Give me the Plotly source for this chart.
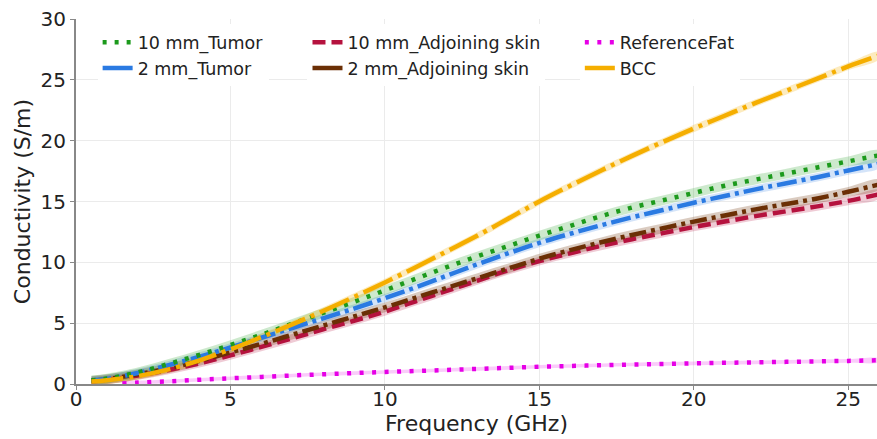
import plotly.graph_objects as go

# ---------------- data ----------------
freq = [0.5, 1, 2, 3, 4, 5, 6, 7, 8, 9, 10, 11, 12, 13, 14, 15, 16, 17, 18, 19,
        20, 21, 22, 23, 24, 25, 26]

tumor_10mm = [0.3, 0.45, 0.95, 1.65, 2.4, 3.2, 4.05, 4.95, 5.85, 6.75, 7.7, 8.65, 9.6,
              10.5, 11.35, 12.2, 13.0, 13.8, 14.5, 15.1, 15.7, 16.3, 16.8, 17.3, 17.8,
              18.3, 18.8]
tumor_2mm = [0.28, 0.42, 0.9, 1.55, 2.25, 3.0, 3.8, 4.6, 5.4, 6.2, 7.05, 7.95, 8.9,
             9.85, 10.75, 11.6, 12.35, 13.05, 13.7, 14.3, 14.9, 15.45, 16.0, 16.5, 17.0,
             17.55, 18.1]
skin_10mm = [0.22, 0.35, 0.7, 1.15, 1.7, 2.35, 3.05, 3.75, 4.5, 5.2, 5.95, 6.8, 7.65,
             8.5, 9.35, 10.1, 10.75, 11.35, 11.9, 12.4, 12.9, 13.35, 13.8, 14.2, 14.6,
             15.05, 15.6]
skin_2mm = [0.25, 0.4, 0.8, 1.3, 1.9, 2.6, 3.3, 4.05, 4.8, 5.55, 6.3, 7.1, 7.9, 8.7,
            9.5, 10.3, 11.0, 11.65, 12.25, 12.8, 13.35, 13.85, 14.35, 14.8, 15.25,
            15.8, 16.4]
bcc = [0.2, 0.3, 0.65, 1.2, 1.95, 2.85, 3.85, 4.9, 6.0, 7.15, 8.35, 9.6, 10.9, 12.2,
       13.6, 15.0, 16.3, 17.55, 18.75, 19.9, 21.0, 22.05, 23.1, 24.1, 25.1, 26.1, 27.0]
fat_freq = [1.5, 2, 3, 4, 5, 6, 7, 8, 9, 10, 11, 12, 13, 14, 15, 16, 17, 18, 19,
            20, 21, 22, 23, 24, 25, 26]
fat = [0.05, 0.12, 0.22, 0.35, 0.47, 0.58, 0.7, 0.8, 0.9, 0.99, 1.07, 1.15, 1.24,
       1.33, 1.42, 1.48, 1.54, 1.6, 1.65, 1.7, 1.74, 1.78, 1.82, 1.86, 1.9, 1.95]

# band half-widths (std) per series
sd_tumor_10mm = 0.4
sd_tumor_2mm = 0.35
sd_skin_10mm = 0.35
sd_skin_2mm = 0.4
sd_bcc = 0.3
sd_fat = 0.15

names = ["10 mm_Tumor", "2 mm_Tumor", "10 mm_Adjoining skin",
         "2 mm_Adjoining skin", "ReferenceFat", "BCC"]

# ---------------- styles ----------------
FONT = "DejaVu Sans"
series = [
    # name, x, y, sd, color, fill, dash, legend dash, legend id
    (names[2], freq, skin_10mm, sd_skin_10mm, "#b5123e", "rgba(181,18,62,0.22)", "13px,6px", "13px,6px", "legend2"),
    (names[3], freq, skin_2mm, sd_skin_2mm, "#6b2f05", "rgba(107,47,5,0.25)", "17px,5px,4px,5px", "solid", "legend2"),
    (names[1], freq, tumor_2mm, sd_tumor_2mm, "#2a7ae2", "rgba(42,122,226,0.2)", "20px,5px,4px,5px", "solid", "legend"),
    (names[0], freq, tumor_10mm, sd_tumor_10mm, "#1c9a1c", "rgba(28,154,28,0.22)", "4px,8px", "4px,8px", "legend"),
    (names[4], fat_freq, fat, sd_fat, "#e600e6", "rgba(230,0,230,0.2)", "4px,8.5px", "4px,8.5px", "legend3"),
    (names[5], freq, bcc, sd_bcc, "#f5ae00", "rgba(245,174,0,0.25)", "32px,6px,4px,6px", "solid", "legend3"),
]

fig = go.Figure()

# bands
for name, x, y, sd, col, fill, dash, ldash, lg in series:
    up = [v + sd for v in y]
    lo = [max(v - sd, 0) for v in y]
    fig.add_trace(go.Scatter(x=list(x) + list(x)[::-1], y=up + lo[::-1], fill="toself",
                             fillcolor=fill, line=dict(width=0, shape="spline"), mode="lines",
                             showlegend=False, hoverinfo="skip"))
# lines
for name, x, y, sd, col, fill, dash, ldash, lg in series:
    fig.add_trace(go.Scatter(x=x, y=y, mode="lines", name=name, showlegend=False,
                             line=dict(color=col, width=4.5, dash=dash, shape="spline")))

# legend entries (in column order)
legend_order = [names[0], names[1], names[2], names[3], names[4], names[5]]
style = {s[0]: s for s in series}
for nm in legend_order:
    name, x, y, sd, col, fill, dash, ldash, lg = style[nm]
    fig.add_trace(go.Scatter(x=[None], y=[None], mode="lines", name=name, legend=lg,
                             line=dict(color=col, width=4.5, dash=ldash)))

leg_common = dict(bgcolor="white", borderwidth=0, font=dict(family=FONT, size=17.5, color="#222"),
                  yanchor="top", xanchor="left", tracegroupgap=0, itemwidth=30,
                  orientation="v")
fig.update_layout(
    width=877, height=439,
    margin=dict(l=76, r=0, t=19, b=55),
    paper_bgcolor="white", plot_bgcolor="white",
    font=dict(family=FONT, size=20, color="#222"),
    legend=dict(x=0.027, y=0.985, **leg_common),
    legend2=dict(x=0.289, y=0.985, **leg_common),
    legend3=dict(x=0.629, y=0.985, **leg_common),
    xaxis=dict(range=[0, 25.93], tickvals=[0, 5, 10, 15, 20, 25], showgrid=True,
               gridcolor="#ebebeb", gridwidth=1, showline=True, linecolor="#888",
               linewidth=2, ticks="outside", ticklen=4, tickcolor="#888",
               zeroline=False, tickfont=dict(size=20), ticklabelstandoff=-8,
               title=dict(text="Frequency (GHz)", font=dict(size=22), standoff=4)),
    yaxis=dict(range=[0, 30], tickvals=[0, 5, 10, 15, 20, 25, 30], showgrid=True,
               gridcolor="#ebebeb", gridwidth=1, showline=True, linecolor="#888",
               linewidth=2, ticks="outside", ticklen=4, tickcolor="#888",
               zeroline=False, tickfont=dict(size=20),
               title=dict(text="Conductivity (S/m)", font=dict(size=22), standoff=4)),
)

fig.write_html("out.html")
